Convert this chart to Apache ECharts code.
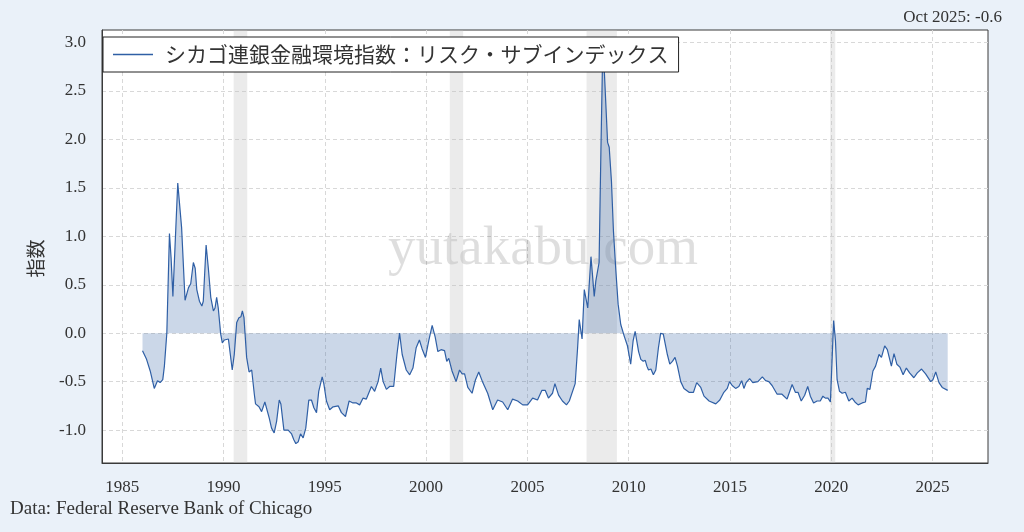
<!DOCTYPE html>
<html><head><meta charset="utf-8">
<script src="https://cdn.jsdelivr.net/npm/echarts@6/dist/echarts.min.js"></script>
<style>html,body{margin:0;padding:0;background:#eaf1f9;}#c{width:1024px;height:532px;}</style>
</head><body><div id="c"></div>
<script>
const seriesName = 'シカゴ連銀金融環境指数：リスク・サブインデックス';
const years = [
1986.0,1986.2,1986.38,1986.58,1986.74,1986.87,1987.0,1987.08,1987.2,1987.33,1987.41,1987.5,1987.58,1987.74,1987.82,1987.93,
1988.1,1988.19,1988.27,1988.38,1988.51,1988.6,1988.68,1988.81,1988.93,1989.0,1989.14,1989.25,1989.37,1989.5,1989.58,1989.66,1989.74,1989.86,1989.94,
1990.04,1990.12,1990.24,1990.43,1990.53,1990.65,1990.76,1990.86,1990.93,1991.01,1991.14,1991.26,1991.39,1991.52,1991.58,1991.75,1991.88,
1992.04,1992.13,1992.26,1992.37,1992.5,1992.62,1992.75,1992.83,1992.98,1993.19,1993.36,1993.47,1993.57,1993.69,1993.8,1993.93,
1994.06,1994.21,1994.34,1994.46,1994.59,1994.7,1994.87,1994.95,1995.08,1995.24,1995.41,1995.66,1995.82,1996.02,1996.2,1996.39,1996.56,1996.72,1996.89,
1997.05,1997.3,1997.46,1997.63,1997.76,1997.88,1998.04,1998.2,1998.4,1998.56,1998.69,1998.82,1999.02,1999.19,1999.35,1999.51,1999.67,1999.8,1999.97,
2000.13,2000.3,2000.45,2000.58,2000.74,2000.91,2001.02,2001.12,2001.28,2001.48,2001.65,2001.78,2001.9,2002.06,2002.27,2002.44,2002.6,2002.8,
2003.04,2003.29,2003.53,2003.78,2004.03,2004.27,2004.52,2004.77,2005.01,2005.26,2005.5,2005.72,2005.88,2006.04,2006.24,2006.36,2006.54,2006.73,2006.93,
2007.07,2007.36,2007.48,2007.56,2007.7,2007.81,2007.9,2007.98,2008.14,2008.3,2008.38,2008.46,2008.54,2008.63,2008.72,2008.8,2008.96,
2009.04,2009.15,2009.25,2009.37,2009.48,2009.61,2009.78,2009.94,2010.1,2010.22,2010.32,2010.39,2010.49,2010.6,2010.72,2010.82,2010.9,2010.98,
2011.1,2011.22,2011.34,2011.47,2011.58,2011.71,2011.8,2011.91,2012.03,2012.16,2012.29,2012.41,2012.57,2012.73,2012.98,
2013.2,2013.36,2013.56,2013.72,2013.97,2014.3,2014.5,2014.7,2014.87,2014.98,2015.11,2015.28,2015.44,2015.58,2015.69,2015.8,2015.97,
2016.13,2016.38,2016.6,2016.76,2016.92,2017.08,2017.33,2017.57,2017.82,2018.07,2018.23,2018.36,2018.52,2018.69,2018.84,2018.97,
2019.13,2019.3,2019.46,2019.59,2019.71,2019.84,2019.96,2020.04,2020.12,2020.21,2020.29,2020.41,2020.54,2020.7,2020.87,
2021.03,2021.17,2021.33,2021.53,2021.69,2021.78,2021.91,2022.06,2022.19,2022.36,2022.48,2022.64,2022.77,2022.97,
2023.1,2023.24,2023.39,2023.55,2023.71,2023.87,2024.08,2024.25,2024.46,2024.66,2024.91,2025.02,2025.16,2025.32,2025.48,2025.75
];
const values = [
-0.18,-0.27,-0.39,-0.57,-0.49,-0.51,-0.48,-0.34,0.0,1.03,0.78,0.38,0.38,1.55,1.55,1.09,
0.34,0.35,0.47,0.51,0.73,0.67,0.45,0.33,0.28,0.33,0.91,0.67,0.37,0.23,0.26,0.37,0.26,-0.01,-0.1,
-0.07,-0.09,-0.06,-0.38,-0.22,0.11,0.16,0.17,0.23,0.16,-0.25,-0.4,-0.38,-0.63,-0.73,-0.76,-0.81,
-0.71,-0.73,-0.88,-0.98,-1.03,-0.91,-0.69,-0.73,-1.0,-1.0,-1.04,-1.1,-1.14,-1.12,-1.04,-1.08,
-0.98,-0.69,-0.69,-0.77,-0.82,-0.6,-0.45,-0.52,-0.70,-0.79,-0.76,-0.75,-0.82,-0.86,-0.70,-0.72,-0.72,-0.74,-0.67,
-0.68,-0.55,-0.6,-0.5,-0.36,-0.5,-0.58,-0.55,-0.55,-0.22,0.0,-0.22,-0.38,-0.43,-0.36,-0.15,-0.07,-0.16,-0.25,
-0.08,0.08,-0.04,-0.19,-0.17,-0.18,-0.29,-0.26,-0.39,-0.5,-0.38,-0.42,-0.42,-0.56,-0.62,-0.48,-0.40,-0.51,
-0.62,-0.79,-0.69,-0.71,-0.79,-0.68,-0.70,-0.74,-0.74,-0.67,-0.69,-0.59,-0.59,-0.67,-0.62,-0.52,-0.64,-0.70,-0.74,
-0.70,-0.52,-0.15,0.14,-0.06,0.45,0.44,0.26,0.79,0.38,0.54,0.53,0.73,1.88,2.93,2.70,1.97,
1.92,1.57,1.05,0.64,0.30,0.09,-0.03,-0.13,-0.32,-0.08,0.02,0.01,-0.19,-0.27,-0.29,-0.28,-0.34,-0.38,
-0.37,-0.43,-0.38,-0.15,0.0,-0.01,-0.01,-0.22,-0.32,-0.29,-0.25,-0.34,-0.50,-0.57,-0.61,
-0.61,-0.51,-0.56,-0.65,-0.70,-0.73,-0.69,-0.61,-0.57,-0.50,-0.54,-0.57,-0.55,-0.49,-0.57,-0.51,-0.47,
-0.51,-0.50,-0.45,-0.49,-0.50,-0.54,-0.63,-0.63,-0.68,-0.53,-0.61,-0.61,-0.70,-0.64,-0.55,-0.65,
-0.72,-0.70,-0.70,-0.65,-0.67,-0.67,-0.71,-0.29,0.13,-0.08,-0.48,-0.60,-0.62,-0.61,-0.70,
-0.67,-0.71,-0.74,-0.72,-0.71,-0.57,-0.58,-0.39,-0.34,-0.22,-0.25,-0.13,-0.17,-0.34,
-0.21,-0.32,-0.35,-0.43,-0.36,-0.41,-0.46,-0.41,-0.37,-0.42,-0.50,-0.48,-0.40,-0.51,-0.56,-0.59
];
const xTicks = [1985,1990,1995,2000,2005,2010,2015,2020,2025];
const yTicks = [-1.0,-0.5,0.0,0.5,1.0,1.5,2.0,2.5,3.0];
const recessions = [[1990.5,1991.17],[2001.17,2001.83],[2007.92,2009.42],[2019.95,2020.2]];
const latestLabel = 'Oct 2025: -0.6';
const sourceLabel = 'Data: Federal Reserve Bank of Chicago';
const yAxisName = '指数';
const watermark = 'yutakabu.com';

const chart = echarts.init(document.getElementById('c'), null, {renderer: 'canvas'});
const serif = 'Liberation Serif';
const option = {
  backgroundColor: '#eaf1f9',
  animation: false,
  grid: {left: 102, right: 36, top: 30, bottom: 69, show: true, backgroundColor: '#ffffff', borderColor: '#3a3a3a', borderWidth: 1},
  legend: {
    left: 103, top: 37, backgroundColor: '#ffffff', borderColor: '#222', borderWidth: 1,
    padding: [6, 10, 6, 10], itemWidth: 40, itemHeight: 1.3, icon: 'rect',
    textStyle: {fontFamily: 'Noto Sans CJK JP', fontSize: 21, color: '#333', padding: [0, 0, 0, 7], lineHeight: 23},
    data: [seriesName]
  },
  xAxis: {
    type: 'value', min: 1984.0, max: 2027.74,
    axisLine: {show: true, onZero: false, lineStyle: {color: '#3a3a3a'}},
    axisTick: {show: false, customValues: xTicks},
    axisLabel: {customValues: xTicks, margin: 16, fontFamily: serif, fontSize: 17, color: '#333', formatter: v => String(v)},
    splitLine: {show: true, lineStyle: {color: '#d8d8d8', type: [4, 3], width: 1}}
  },
  yAxis: {
    type: 'value', min: -1.34, max: 3.13,
    name: yAxisName, nameLocation: 'middle', nameGap: 57, nameRotate: 90,
    nameTextStyle: {fontFamily: 'Noto Sans CJK JP', fontSize: 19, color: '#333', padding: [0, 24, 0, 0]},
    axisLine: {show: true, onZero: false, lineStyle: {color: '#3a3a3a'}},
    axisTick: {show: false, customValues: yTicks},
    axisLabel: {customValues: yTicks, margin: 16, fontFamily: serif, fontSize: 17, color: '#333', formatter: v => v.toFixed(1)},
    splitLine: {show: true, lineStyle: {color: '#d8d8d8', type: [4, 3], width: 1}}
  },
  graphic: [
    {type: 'text', left: 388, top: 222, z: 1, silent: true,
     style: {text: watermark, font: '55px "Liberation Serif"', fill: 'rgba(0,0,0,0.13)'}},
    {type: 'text', right: 22, top: 9, style: {text: latestLabel, font: '17px "Liberation Serif"', fill: '#333'}},
    {type: 'text', left: 10, top: 500, style: {text: sourceLabel, font: '19px "Liberation Serif"', fill: '#333'}}
  ],
  series: [{
    name: seriesName, type: 'line', symbol: 'none', showSymbol: false,
    data: years.map((y, i) => [y, values[i]]),
    lineStyle: {color: '#2f5fa5', width: 1.2},
    itemStyle: {color: '#2f5fa5'},
    areaStyle: {color: 'rgba(48,96,165,0.25)', opacity: 1, origin: 0},
    markArea: {
      silent: true,
      itemStyle: {color: 'rgba(190,190,190,0.3)'},
      data: recessions.map(r => [{xAxis: r[0]}, {xAxis: r[1]}])
    }
  }]
};
chart.setOption(option);
</script></body></html>
